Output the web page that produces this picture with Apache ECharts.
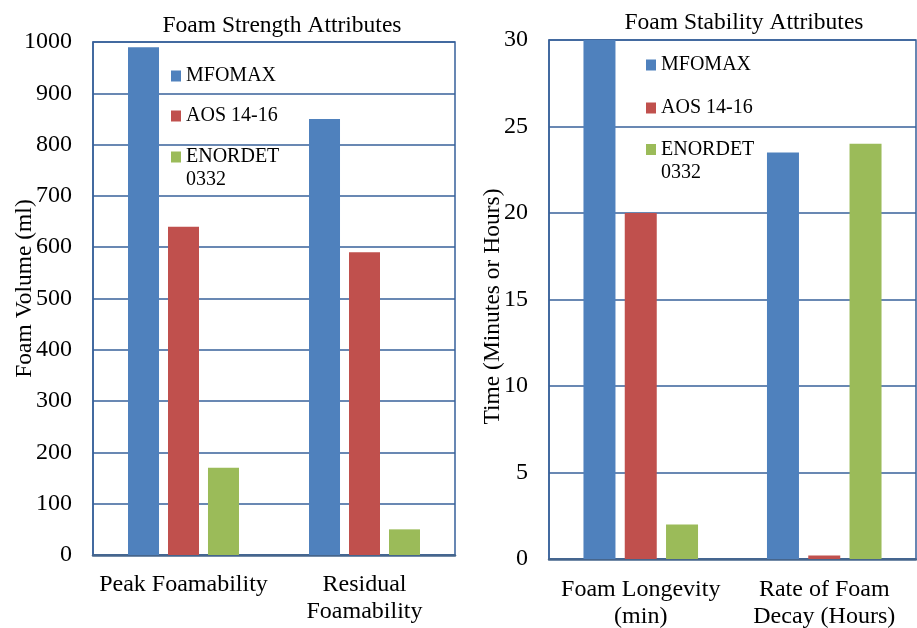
<!DOCTYPE html>
<html>
<head>
<meta charset="utf-8">
<script src="https://cdn.jsdelivr.net/npm/echarts@6/dist/echarts.min.js"></script>
<style>
html,body{margin:0;padding:0;background:#fff;}
#chart{width:917px;height:628px;}
</style>
</head>
<body>
<div id="chart"></div>
<script>
// ---- data ----
const seriesNames = ['MFOMAX', 'AOS 14-16', 'ENORDET 0332'];
const strengthCategories = ['Peak Foamability', 'Residual\nFoamability'];
const strengthMFOMAX = [990, 850];
const strengthAOS = [640, 590];
const strengthENORDET = [170, 50];
const stabilityCategories = ['Foam Longevity\n(min)', 'Rate of Foam\nDecay (Hours)'];
const stabilityMFOMAX = [30, 23.5];
const stabilityAOS = [20, 0.2];
const stabilityENORDET = [2, 24];
const strengthTicks = {min: 0, max: 1000, interval: 100};
const stabilityTicks = {min: 0, max: 30, interval: 5};

// ---- styling ----
const FONT = 'Liberation Serif';
const colors = ['#4F81BD', '#C0504D', '#9BBB59'];
const gridColor = '#37609A';
const axisColor = '#46658C';

const chart = echarts.init(document.getElementById('chart'), null, {renderer: 'canvas'});

function legendItem(name, left, centerY) {
  const multi = name === 'ENORDET 0332';
  return {
    data: [name],
    orient: 'vertical',
    left: left,
    top: centerY - 11.5 + 2,
    padding: 0,
    icon: multi ? 'path://M0,0L10,0L10,11L0,11ZM0,34L0.01,34L0,34Z' : 'rect',
    itemWidth: 10,
    itemHeight: multi ? 34 : 11,
    selectedMode: false,
    formatter: n => n === 'ENORDET 0332' ? 'ENORDET\n0332' : n,
    textStyle: {fontFamily: FONT, fontSize: 20, color: '#000', lineHeight: 23}
  };
}

function yAxisDef(idx, ticks, name, gap, pad) {
  return {
    type: 'value', gridIndex: idx,
    min: ticks.min, max: ticks.max, interval: ticks.interval,
    name: name, nameLocation: 'middle', nameGap: gap, nameRotate: 90,
    nameMoveOverlap: false,
    nameTextStyle: {fontFamily: FONT, fontSize: 23.5, color: '#000', padding: pad},
    axisLine: {show: true, lineStyle: {color: gridColor, width: 1.5}},
    axisTick: {show: false},
    axisLabel: {fontFamily: FONT, fontSize: 24, color: '#000', margin: 21, formatter: v => String(v)},
    splitLine: {show: true, lineStyle: {color: gridColor, width: 1.5}}
  };
}

function xAxisDef(idx, cats, margin) {
  return {
    type: 'category', gridIndex: idx, data: cats,
    axisLine: {show: true, lineStyle: {color: axisColor, width: 2.5}},
    axisTick: {show: false},
    axisLabel: {fontFamily: FONT, fontSize: 24, color: '#000', margin: margin, lineHeight: 27, interval: 0}
  };
}

function barSeries(name, values, axisIdx, color, width) {
  return {
    type: 'bar', name: name, data: values,
    xAxisIndex: axisIdx, yAxisIndex: axisIdx,
    barWidth: width, barGap: '29%',
    itemStyle: {color: color},
    emphasis: {disabled: true}
  };
}

const option = {
  animation: false,
  backgroundColor: '#fff',
  title: [
    {text: 'Foam Strength Attributes', left: 282, top: 14, padding: 0, textAlign: 'center',
     textStyle: {fontFamily: FONT, fontSize: 23.5, fontWeight: 'normal', color: '#000'}},
    {text: 'Foam Stability Attributes', left: 744, top: 11, padding: 0, textAlign: 'center',
     textStyle: {fontFamily: FONT, fontSize: 23.5, fontWeight: 'normal', color: '#000'}}
  ],
  legend: [
    legendItem(seriesNames[0], 171, 74),
    legendItem(seriesNames[1], 171, 114),
    legendItem(seriesNames[2], 171, 155),
    legendItem(seriesNames[0], 646, 63),
    legendItem(seriesNames[1], 646, 106),
    legendItem(seriesNames[2], 646, 147.5)
  ],
  grid: [
    {left: 93, top: 42, width: 362, height: 513, show: true, borderColor: gridColor, borderWidth: 1.5,
     containLabel: false, outerBoundsMode: 'none'},
    {left: 549, top: 40, width: 367, height: 519, show: true, borderColor: gridColor, borderWidth: 1.5,
     containLabel: false, outerBoundsMode: 'none'}
  ],
  xAxis: [
    xAxisDef(0, strengthCategories, 16),
    xAxisDef(1, stabilityCategories, 17)
  ],
  yAxis: [
    yAxisDef(0, strengthTicks, 'Foam Volume (ml)', 56, [0, 0, 0, 20]),
    yAxisDef(1, stabilityTicks, 'Time (Minutes or Hours)', 44, [0, 14, 0, 0])
  ],
  series: [
    barSeries(seriesNames[0], strengthMFOMAX, 0, colors[0], 31),
    barSeries(seriesNames[1], strengthAOS, 0, colors[1], 31),
    barSeries(seriesNames[2], strengthENORDET, 0, colors[2], 31),
    barSeries(seriesNames[0], stabilityMFOMAX, 1, colors[0], 32),
    barSeries(seriesNames[1], stabilityAOS, 1, colors[1], 32),
    barSeries(seriesNames[2], stabilityENORDET, 1, colors[2], 32)
  ]
};
chart.setOption(option);
</script>
</body>
</html>
